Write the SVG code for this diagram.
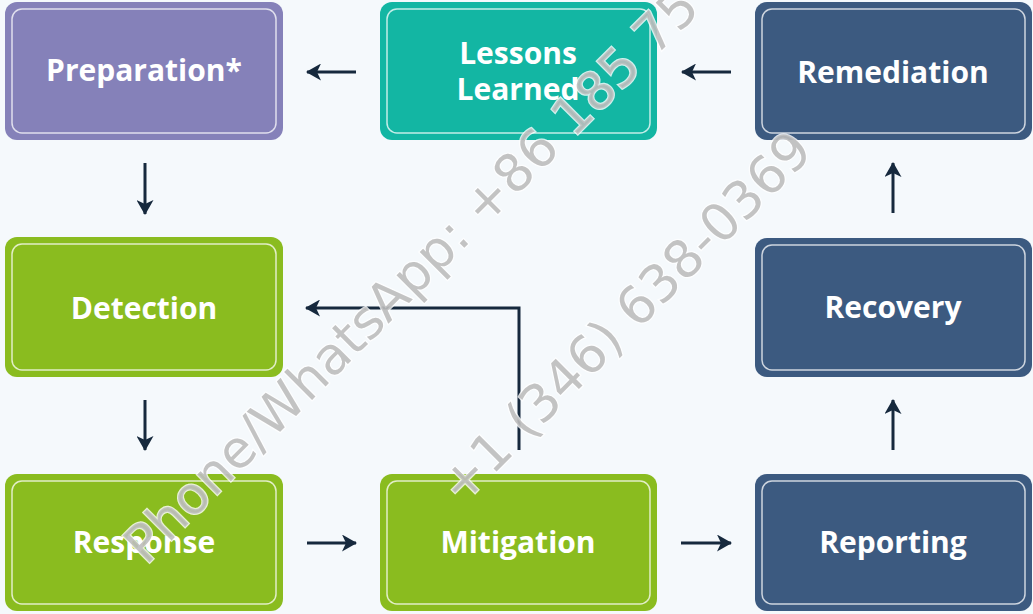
<svg xmlns="http://www.w3.org/2000/svg" width="1033" height="614" viewBox="0 0 1033 614">
<style>
.box{stroke:none}
.inner{fill:none;stroke:#ffffff;stroke-opacity:0.75;stroke-width:1.5}
.lbl{font-family:"Open Sans","Lato",sans-serif;font-weight:700;font-size:30px;fill:#ffffff;text-anchor:middle}
.conn{fill:none;stroke:#16293d;stroke-width:3}
.wm{font-family:"DejaVu Sans",sans-serif;font-size:52px;fill:#bcbcbc;fill-opacity:0.9;stroke:#ffffff;stroke-width:2.5;stroke-opacity:0.8;paint-order:stroke}
.purple{fill:#8581b9}.teal{fill:#13b6a3}.navy{fill:#3c5a80}.green{fill:#8abc1f}
</style>
<defs>
<marker id="ah" viewBox="0 0 15 17" refX="14" refY="8.5" markerWidth="15" markerHeight="17" markerUnits="userSpaceOnUse" orient="auto">
<path d="M0,0 L15,8.5 L0,17 L4,8.5 Z" fill="#16293d"/>
</marker>
</defs>
<rect width="1033" height="614" fill="#f5f9fc"/>

<g id="preparation">
<rect class="box purple" x="5" y="2" width="278" height="138" rx="12"/>
<rect class="inner" x="12" y="9" width="264" height="124" rx="10"/>
<text class="lbl" x="144" y="81">Preparation*</text>
</g>
<g id="lessons-learned">
<rect class="box teal" x="380" y="2" width="277" height="138" rx="12"/>
<rect class="inner" x="387" y="9" width="263" height="124" rx="10"/>
<text class="lbl" x="518" y="64">Lessons</text>
<text class="lbl" x="518" y="100">Learned</text>
</g>
<g id="remediation">
<rect class="box navy" x="755" y="2" width="277" height="138" rx="12"/>
<rect class="inner" x="762" y="9" width="263" height="124" rx="10"/>
<text class="lbl" x="893" y="83">Remediation</text>
</g>
<g id="detection">
<rect class="box green" x="5" y="237" width="278" height="140" rx="12"/>
<rect class="inner" x="12" y="244" width="264" height="126" rx="10"/>
<text class="lbl" x="144" y="319">Detection</text>
</g>
<g id="recovery">
<rect class="box navy" x="755" y="238" width="277" height="139" rx="12"/>
<rect class="inner" x="762" y="245" width="263" height="125" rx="10"/>
<text class="lbl" x="893" y="318">Recovery</text>
</g>
<g id="response">
<rect class="box green" x="5" y="474" width="278" height="137" rx="12"/>
<rect class="inner" x="12" y="481" width="264" height="123" rx="10"/>
<text class="lbl" x="144" y="553">Response</text>
</g>
<g id="mitigation">
<rect class="box green" x="380" y="474" width="277" height="137" rx="12"/>
<rect class="inner" x="387" y="481" width="263" height="123" rx="10"/>
<text class="lbl" x="518" y="553">Mitigation</text>
</g>
<g id="reporting">
<rect class="box navy" x="755" y="474" width="277" height="137" rx="12"/>
<rect class="inner" x="762" y="481" width="263" height="123" rx="10"/>
<text class="lbl" x="893" y="553">Reporting</text>
</g>

<g id="connectors">
<path class="conn" marker-end="url(#ah)" d="M356,72 L307,72"/>
<path class="conn" marker-end="url(#ah)" d="M731,72 L682,72"/>
<path class="conn" marker-end="url(#ah)" d="M145,163 L145,214"/>
<path class="conn" marker-end="url(#ah)" d="M145,400 L145,450"/>
<path class="conn" marker-end="url(#ah)" d="M307,543 L356,543"/>
<path class="conn" marker-end="url(#ah)" d="M681,543 L731,543"/>
<path class="conn" marker-end="url(#ah)" d="M893,450 L893,400"/>
<path class="conn" marker-end="url(#ah)" d="M893,213 L893,163"/>
<path class="conn" marker-end="url(#ah)" d="M519,450 L519,308 L306,308"/>
</g>

<g id="watermark">
<text class="wm" transform="translate(146,566) rotate(-45)">Phone/WhatsApp: +86 185 75</text>
<text class="wm" text-anchor="middle" transform="translate(638,330) rotate(-45)">+1 (346) 638-0369</text>
</g>
</svg>
